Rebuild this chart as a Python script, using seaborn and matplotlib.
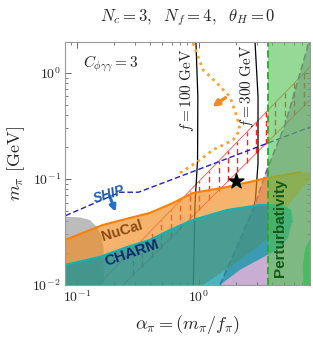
import numpy as np
import matplotlib
matplotlib.use("Agg")
import matplotlib.pyplot as plt
import matplotlib.ticker as mticker
import seaborn as sns

# --- curves (alpha_pi, m_pi [GeV]) ---
nucal_a = [0.07, 0.08, 0.163, 0.272, 0.396, 0.612, 0.893, 1.70, 3.61, 6.73, 8.5, 8.5, 7.1, 5.57, 3.82, 2.17, 1.08, 0.07]
nucal_m = [0.0266, 0.0266, 0.0368, 0.0429, 0.0478, 0.0594, 0.0738, 0.0841, 0.102, 0.116, 0.115, 0.10, 0.084, 0.0594, 0.0284, 0.0172, 0.01, 0.01]

charm_a = [0.07, 0.08, 0.154, 0.257, 0.396, 0.578, 0.893, 1.70, 3.16, 4.61, 5.57, 5.79, 5.37, 4.61, 3.28, 2.17, 1.49, 0.07]
charm_m = [0.0155, 0.0155, 0.0184, 0.0228, 0.0266, 0.033, 0.0411, 0.051, 0.0569, 0.0569, 0.051, 0.0393, 0.0277, 0.0223, 0.018, 0.0139, 0.01, 0.01]

gray_a = [0.07, 0.08, 0.106, 0.128, 0.146, 0.160, 0.166, 0.166, 0.07]
gray_m = [0.044, 0.044, 0.0435, 0.041, 0.0352, 0.0284, 0.0214, 0.01, 0.01]

bound_a = [1.49, 2.77, 3.61, 5.07, 7.65, 7.9]
bound_m = [0.01, 0.051, 0.122, 0.323, 1.65, 2.0]

green_blob_a = [8.5, 7.4, 7.1, 7.2, 8.5]
green_blob_m = [0.03, 0.022, 0.015, 0.01, 0.01]

ship_a = [0.07, 0.225, 0.32, 8.5]
ship_m = [0.042, 0.075, 0.075, 0.315]

f100_a = [0.945, 0.98, 0.975, 0.93, 0.90]
f100_m = [2.0, 0.6, 0.15, 0.06, 0.01]
f300_a = [2.88, 3.05, 3.05, 2.9, 2.77]
f300_m = [2.0, 0.6, 0.14, 0.063, 0.051]

dotted_a = [0.893, 1.08, 1.40, 1.80, 2.05, 2.17, 1.90, 1.30, 1.02, 0.70]
dotted_m = [1.92, 1.07, 0.805, 0.594, 0.385, 0.290, 0.233, 0.188, 0.151, 0.114]

band_up_a = [0.15, 8.13]
band_up_m = [0.01, 1.14]
band_lo_a = [0.24, 8.13]
band_lo_m = [0.01, 0.556]
band_ticks = [0.29, 0.34, 0.41, 0.49, 0.59, 0.70, 0.84, 1.0, 1.2, 1.45, 1.73,
              2.07, 2.47, 2.96, 3.54, 4.24, 5.07, 6.06, 7.25]

pert_alpha = 3.66
star_a = [2.0]
star_m = [0.096]

sns.set_theme(style="ticks")
plt.rcParams["mathtext.fontset"] = "cm"
plt.rcParams["font.family"] = ["Liberation Sans", "DejaVu Sans"]

fig = plt.figure(figsize=(3.13, 3.42), dpi=100)
ax = fig.add_axes([0.2077, 0.1667, 0.7827, 0.7105])
ax.set_xscale("log")
ax.set_yscale("log")

# lines underneath the shaded regions
sns.lineplot(x=band_up_a, y=band_up_m, sort=False, estimator=None, color="#ff5050", lw=0.6, ax=ax, zorder=0.5)
sns.lineplot(x=band_lo_a, y=band_lo_m, sort=False, estimator=None, color="#ff5050", lw=0.6, ax=ax, zorder=0.5)
la = np.log10(band_ticks)
up = 10 ** np.interp(la, np.log10(band_up_a), np.log10(band_up_m))
lo = 10 ** np.interp(la, np.log10(band_lo_a), np.log10(band_lo_m))
ax.vlines(band_ticks, lo, up, colors="#ff2020", linestyles=(0, (4, 2.5)), lw=1.0, zorder=0.5)

sns.lineplot(x=ship_a, y=ship_m, sort=False, estimator=None, color="#2020c0", lw=1.0, linestyle=(0, (4, 2)), ax=ax, zorder=0.6)
sns.lineplot(x=f100_a, y=f100_m, sort=False, estimator=None, color="black", lw=0.9, ax=ax, zorder=0.6)
sns.lineplot(x=f300_a, y=f300_m, sort=False, estimator=None, color="black", lw=0.9, ax=ax, zorder=0.6)
sns.lineplot(x=bound_a, y=bound_m, sort=False, estimator=None, color="#8a5aa8", lw=1.2, linestyle=(0, (4, 2)), ax=ax, zorder=0.6)

# shaded regions
purple_a = bound_a + [20, 20]
purple_m = bound_m + [2.0, 0.01]
ax.fill(purple_a, purple_m, color="#8a4a9e", alpha=0.45, lw=0, zorder=1)
ax.fill(gray_a, gray_m, color="#a0a0a0", alpha=0.7, lw=0, zorder=1.1)
ax.fill(nucal_a, nucal_m, facecolor="#f08a20", alpha=0.65, lw=0, zorder=2)
ax.plot(nucal_a[:10], nucal_m[:10], color="#ff8000", lw=1.5, zorder=2.1)
ax.fill(charm_a, charm_m, facecolor="#0094a2", alpha=0.7, lw=0, zorder=3)
ax.plot(charm_a[:12], charm_m[:12], color="#10b4b4", lw=1.5, zorder=3.1)
ax.axvspan(pert_alpha, 20, color="#50c050", alpha=0.6, lw=0, zorder=4)
ax.fill(green_blob_a, green_blob_m, color="#30c050", alpha=0.7, lw=0, zorder=4.1)
ax.axvline(pert_alpha, color="#20b020", lw=1.3, linestyle=(0, (4, 2)), zorder=5)

sns.lineplot(x=dotted_a, y=dotted_m, sort=False, estimator=None, color="#ffa030", lw=2.0, linestyle=(0, (1, 1.5)), ax=ax, zorder=5)
sns.scatterplot(x=star_a, y=star_m, marker="*", s=130, color="black", edgecolor="black", ax=ax, zorder=7)

# arrows and labels
ax.annotate("", xy=(1.29, 0.48), xytext=(1.65, 0.585),
            arrowprops=dict(arrowstyle="-|>", color="#f08a20", lw=2.4, mutation_scale=9,
                            shrinkA=0, shrinkB=0), zorder=6)
ax.annotate("", xy=(0.207, 0.049), xytext=(0.186, 0.069),
            arrowprops=dict(arrowstyle="-|>", color="#1f70c8", lw=2.2, mutation_scale=9,
                            shrinkA=0, shrinkB=0), zorder=6)

ax.text(0.185, 0.072, "SHIP", color="#1f5fa8", fontsize=10, fontweight="bold", style="italic",
        rotation=17, ha="center", va="center", zorder=6)
ax.text(0.234, 0.0322, "NuCal", color="#8b4a10", fontsize=10.5, fontweight="bold",
        rotation=17, ha="center", va="center", zorder=6)
ax.text(0.282, 0.020, "CHARM", color="#0a2a70", fontsize=11, fontweight="bold",
        rotation=19, ha="center", va="center", zorder=6)
ax.text(4.65, 0.0345, "Perturbativity", color="#145a14", fontsize=11, fontweight="bold",
        rotation=90, ha="center", va="center", zorder=6)
ax.text(0.80, 0.69, r"$f = 100\;\mathrm{GeV}$", fontsize=11, rotation=90, ha="center", va="center", zorder=6)
ax.text(2.47, 0.75, r"$f = 300\;\mathrm{GeV}$", fontsize=11, rotation=90, ha="center", va="center", zorder=6)
ax.text(0.112, 1.22, r"$C_{\phi\gamma\gamma} = 3$", fontsize=11, ha="left", va="center", zorder=6)

ax.set_xlim(0.08, 8.13)
ax.set_ylim(0.01, 1.96)

fmt = mticker.FuncFormatter(lambda v, p: r"$\mathsf{10^{%d}}$" % int(round(np.log10(v))))
ax.xaxis.set_major_locator(mticker.LogLocator(base=10, numticks=10))
ax.yaxis.set_major_locator(mticker.LogLocator(base=10, numticks=10))
ax.xaxis.set_major_formatter(fmt)
ax.yaxis.set_major_formatter(fmt)
ax.xaxis.set_minor_locator(mticker.LogLocator(base=10, subs=np.arange(2, 10), numticks=20))
ax.yaxis.set_minor_locator(mticker.LogLocator(base=10, subs=np.arange(2, 10), numticks=20))
ax.xaxis.set_minor_formatter(mticker.NullFormatter())
ax.yaxis.set_minor_formatter(mticker.NullFormatter())
ax.tick_params(which="both", direction="in", top=True, right=True, color="#666666", labelsize=10, pad=3)
ax.tick_params(which="major", length=4, width=0.7)
ax.tick_params(which="minor", length=2.5, width=0.6)
for s in ax.spines.values():
    s.set_color("#999999")
    s.set_linewidth(0.8)
    s.set_zorder(8)

ax.set_xlabel(r"$\alpha_\pi = (m_\pi/f_\pi)$", fontsize=13, labelpad=6)
ax.set_ylabel(r"$m_\pi\ [\mathrm{GeV}]$", fontsize=13, labelpad=4)
ax.set_title(r"$N_c = 3,\ \ N_f = 4,\ \ \theta_H = 0$", fontsize=12, pad=15, x=0.5)

fig.savefig("out.png", dpi=100)
